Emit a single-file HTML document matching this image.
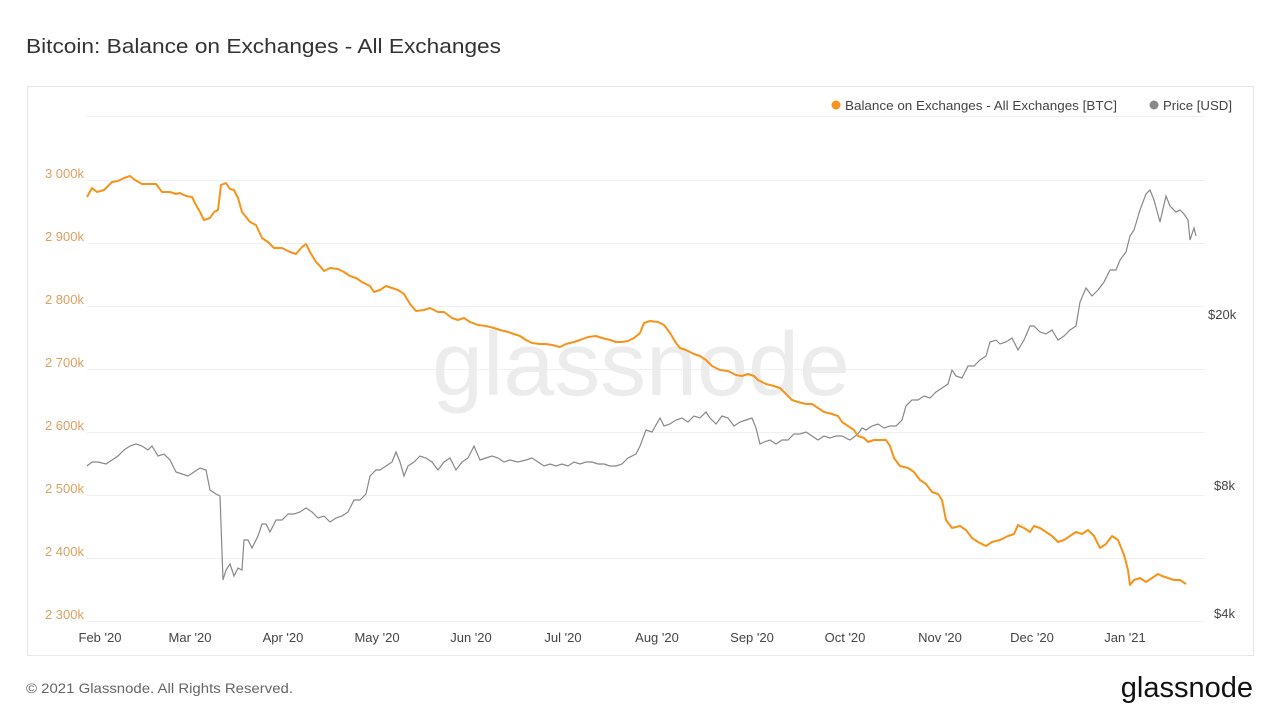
<!DOCTYPE html>
<html><head><meta charset="utf-8"><style>
body{margin:0;width:1280px;height:720px;background:#fff;font-family:"Liberation Sans",sans-serif;overflow:hidden}
</style></head><body>
<svg width="1280" height="720" xmlns="http://www.w3.org/2000/svg" font-family="Liberation Sans, sans-serif">
<text x="26" y="53" font-size="20" fill="#333" textLength="475" lengthAdjust="spacingAndGlyphs">Bitcoin: Balance on Exchanges - All Exchanges</text>
<rect x="27.5" y="86.5" width="1226" height="569" fill="#fff" stroke="#e6e6e6"/>
<g stroke="#f0f0f0" stroke-width="1">
<line x1="87" x2="1205" y1="116.5" y2="116.5"/><line x1="87" x2="1205" y1="180.5" y2="180.5"/>
<line x1="87" x2="1205" y1="243.5" y2="243.5"/><line x1="87" x2="1205" y1="306.5" y2="306.5"/>
<line x1="87" x2="1205" y1="369.5" y2="369.5"/><line x1="87" x2="1205" y1="432.5" y2="432.5"/>
<line x1="87" x2="1205" y1="495.5" y2="495.5"/><line x1="87" x2="1205" y1="558.5" y2="558.5"/>
<line x1="87" x2="1205" y1="621.5" y2="621.5"/>
</g>
<text x="641" y="395" font-size="90" fill="#ececec" text-anchor="middle" textLength="418" lengthAdjust="spacingAndGlyphs">glassnode</text>
<g font-size="13" fill="#dea060" text-anchor="end">
<text x="84" y="178">3 000k</text><text x="84" y="241">2 900k</text><text x="84" y="304">2 800k</text>
<text x="84" y="367">2 700k</text><text x="84" y="430">2 600k</text><text x="84" y="493">2 500k</text>
<text x="84" y="556">2 400k</text><text x="84" y="619">2 300k</text>
</g>
<g font-size="13" fill="#444">
<text x="1208" y="319">$20k</text><text x="1214" y="490">$8k</text><text x="1214" y="618">$4k</text>
</g>
<g font-size="13" fill="#444" text-anchor="middle">
<text x="100" y="642">Feb '20</text><text x="190" y="642">Mar '20</text><text x="283" y="642">Apr '20</text>
<text x="377" y="642">May '20</text><text x="471" y="642">Jun '20</text><text x="563" y="642">Jul '20</text>
<text x="657" y="642">Aug '20</text><text x="752" y="642">Sep '20</text><text x="845" y="642">Oct '20</text>
<text x="940" y="642">Nov '20</text><text x="1032" y="642">Dec '20</text><text x="1125" y="642">Jan '21</text>
</g>
<circle cx="836" cy="105" r="4.5" fill="#f7931a"/>
<text x="845" y="110" font-size="13" fill="#444" textLength="272" lengthAdjust="spacingAndGlyphs">Balance on Exchanges - All Exchanges [BTC]</text>
<circle cx="1154" cy="105" r="4.5" fill="#888"/>
<text x="1163" y="110" font-size="13" fill="#444" textLength="69" lengthAdjust="spacingAndGlyphs">Price [USD]</text>
<polyline fill="none" stroke="#888" stroke-width="1.2" points="87,466 92,462 98,462 106,464 112,460 118,456 124,450 130,446 136,444 142,446 148,450 152,446 158,456 164,454 170,460 176,472 182,474 188,476 194,472 200,468 206,470 210,490 216,494 220,496 223,580 226,570 230,564 234,576 238,568 242,570 244,540 248,540 252,548 258,536 262,524 266,524 270,532 276,520 282,520 288,514 294,514 300,512 306,508 312,512 318,518 324,516 330,522 336,518 342,516 348,512 354,500 360,500 366,494 370,476 376,470 380,470 386,466 392,462 396,452 400,462 404,476 408,466 414,462 420,456 426,458 432,462 438,470 444,462 450,458 456,470 462,462 468,458 474,446 480,460 486,458 492,456 498,458 504,462 510,460 518,462 526,460 532,458 538,462 544,466 550,464 556,466 562,464 568,466 574,462 580,464 586,462 592,462 598,464 604,464 610,466 616,466 622,464 628,458 636,454 640,446 646,430 652,432 660,418 664,426 670,424 676,420 682,418 688,422 694,416 700,418 706,412 710,418 716,424 722,416 728,418 734,426 740,422 746,420 752,418 756,428 760,444 764,442 770,440 776,444 782,440 788,440 794,434 800,434 806,432 812,436 818,440 824,436 830,438 836,436 842,436 850,440 858,434 862,428 866,430 872,426 878,424 884,428 890,426 896,426 902,420 906,406 912,400 918,400 924,396 930,398 936,392 942,388 948,384 952,370 956,376 962,378 968,366 974,366 980,360 986,356 990,342 996,340 1000,344 1006,342 1012,338 1018,350 1024,340 1030,326 1034,326 1040,332 1046,334 1052,330 1058,340 1064,336 1070,330 1076,326 1080,302 1086,288 1092,296 1098,290 1104,282 1110,270 1116,270 1120,260 1126,252 1130,236 1134,230 1140,210 1146,194 1150,190 1154,200 1160,222 1166,196 1170,206 1176,212 1180,210 1184,214 1188,220 1190,240 1194,228 1196,236"/>
<polyline fill="none" stroke="#f7931a" stroke-width="2" stroke-linejoin="round" points="87,197 92,188 97,192 104,190 112,182 118,181 124,178 130,176 135,180 142,184 150,184 156,184 162,192 170,192 176,194 180,193 186,196 192,197 196,205 200,212 204,220 210,218 214,212 218,210 221,185 226,183 230,189 234,190 238,198 242,212 246,217 250,222 256,225 262,238 268,242 274,248 282,248 290,252 296,254 302,247 306,244 310,252 316,262 320,266 324,271 330,268 338,269 344,272 350,276 356,278 362,282 370,286 374,292 380,290 386,286 392,288 398,290 404,294 410,304 416,311 424,310 430,308 438,312 444,312 452,318 458,320 464,318 470,322 478,325 486,326 494,328 500,330 508,332 514,334 520,336 526,340 532,343 540,344 546,344 552,345 560,347 566,344 574,342 580,340 588,337 596,336 602,338 610,340 616,342 622,342 628,341 634,338 640,333 644,323 650,321 658,322 664,325 670,333 676,343 680,348 686,350 694,354 700,356 706,360 712,366 720,370 728,371 736,375 742,376 748,374 754,376 758,380 766,384 774,386 780,388 786,394 792,400 798,402 806,404 812,404 818,408 824,412 832,414 838,416 842,422 848,426 854,430 858,436 864,438 868,442 874,440 880,440 886,440 890,446 894,458 900,466 908,468 914,472 920,480 926,484 932,492 938,494 942,500 946,520 952,528 960,526 966,530 972,538 978,542 986,546 992,542 1000,540 1008,536 1014,534 1018,525 1024,528 1030,532 1034,526 1040,528 1046,532 1052,536 1058,542 1064,540 1070,536 1076,532 1082,534 1088,530 1094,536 1100,548 1106,544 1112,536 1118,540 1124,555 1128,570 1130,585 1134,580 1140,578 1146,582 1152,578 1158,574 1162,576 1168,578 1174,580 1180,580 1186,584"/>
<text x="26" y="693" font-size="14" fill="#666" textLength="267" lengthAdjust="spacingAndGlyphs">© 2021 Glassnode. All Rights Reserved.</text>
<text x="1253" y="697" font-size="29" fill="#111" text-anchor="end">glassnode</text>
</svg>
</body></html>
